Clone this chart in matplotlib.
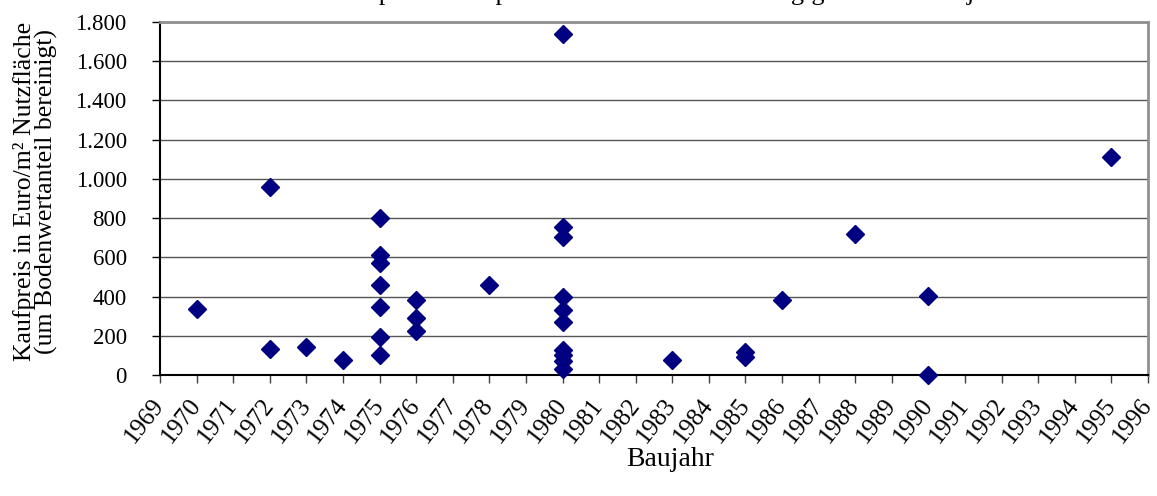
import matplotlib
matplotlib.use("Agg")
import matplotlib.pyplot as plt
import matplotlib.transforms as mtransforms
from matplotlib.ticker import FuncFormatter, MultipleLocator

plt.rcParams['font.family'] = ['Liberation Serif', 'DejaVu Serif']

# Data (Baujahr, Kaufpreis in Euro/m²)
years = [1970,
         1972, 1972,
         1973,
         1974,
         1975, 1975, 1975, 1975, 1975, 1975, 1975,
         1976, 1976, 1976,
         1978,
         1980, 1980, 1980, 1980, 1980, 1980, 1980, 1980, 1980, 1980,
         1983,
         1985, 1985,
         1986,
         1988,
         1990, 1990,
         1995]
prices = [335,
          957, 131,
          145,
          77,
          800, 610, 570, 458, 345, 192, 103,
          380, 290, 225,
          460,
          1739, 757, 703, 396, 332, 268, 125, 100, 72, 28,
          77,
          117, 90,
          380,
          720,
          402, 2,
          1112]

year_ticks = list(range(1969, 1997))

title = "Kaufpreise in € pro m² Nutzfläche in Abhängigkeit vom Baujahr"
ylabel = "Kaufpreis in Euro/m² Nutzfläche\n(um Bodenwertanteil bereinigt)"
xlabel = "Baujahr"

fig = plt.figure(figsize=(11.57, 4.96), dpi=100)
ax = fig.add_axes([0.1383, 0.244, 0.9922 - 0.1383, 0.9556 - 0.244])

ax.set_xlim(1969, 1996)
ax.set_ylim(0, 1800)
ax.yaxis.set_major_locator(MultipleLocator(200))
ax.set_xticks(year_ticks)
ax.set_xticklabels([str(y) for y in year_ticks], rotation=52, ha='right', va='center',
                   rotation_mode='anchor', fontsize=18)
shift = mtransforms.ScaledTranslation(7 / 100, 0, fig.dpi_scale_trans)
for lab in ax.get_xticklabels():
    lab.set_transform(lab.get_transform() + shift)
ax.yaxis.set_major_formatter(FuncFormatter(lambda v, p: f"{int(v):,}".replace(",", ".")))
ax.tick_params(axis='y', labelsize=16.5, direction='out', length=6, width=1, color='black', pad=18)
ax.tick_params(axis='x', direction='out', length=6, width=1, color='#404040', pad=13)

ax.grid(axis='y', color='#555555', linewidth=1.0)
ax.set_axisbelow(True)

for s in ['top', 'right']:
    ax.spines[s].set_color('#909090')
    ax.spines[s].set_linewidth(2.0)
for s in ['left', 'bottom']:
    ax.spines[s].set_color('black')
    ax.spines[s].set_linewidth(1.5)

ax.plot(years, prices, linestyle='none', marker='D', markersize=9,
        color='#000080', markeredgecolor='#000080', clip_on=False, zorder=5)

ax.set_ylabel(ylabel, fontsize=18.5, linespacing=0.95)
ax.yaxis.set_label_coords(-0.103, 0.52)
ax.set_xlabel(xlabel, fontsize=20)
ax.xaxis.set_label_coords(0.516, -0.205)

fig.text(0.576, 1.0, title, fontsize=19, ha='center', va='baseline')

fig.savefig("out.png", dpi=100)
